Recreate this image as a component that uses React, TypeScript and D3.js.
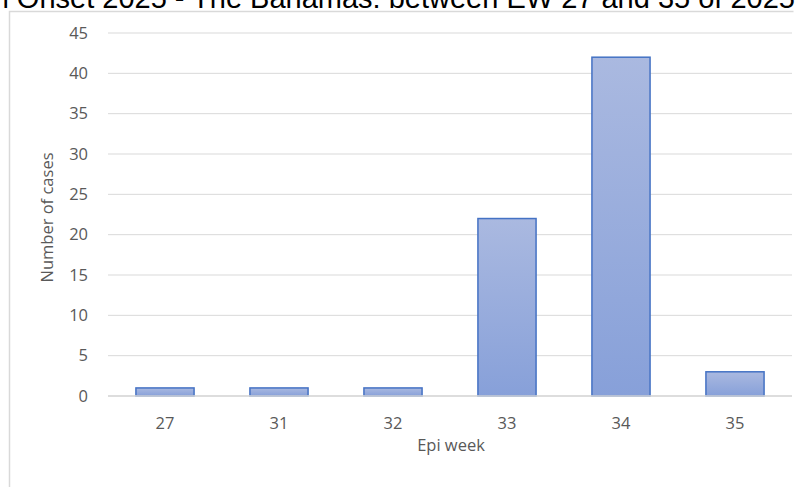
import React from "react";
import * as d3 from "d3";

const categories = ["27", "31", "32", "33", "34", "35"];
const cases = [1, 1, 1, 22, 42, 3];
const yTicks = [0, 5, 10, 15, 20, 25, 30, 35, 40, 45];
const title = "Cases by Week of Symptom Onset 2025 - The Bahamas: between EW 27 and 35 of 2025";

export default function App() {
  const W = 803, H = 487;
  const left = 108, right = 792, top = 33, bottom = 396;
  const x = d3.scaleBand<string>().domain(categories).range([left, right]).paddingInner(0.49).paddingOuter(0.245);
  const y = d3.scaleLinear().domain([0, 45]).range([bottom, top]);
  const font = "'Open Sans', sans-serif";
  const fs = 16.5;
  return (
    <svg width={W} height={H} style={{ position: "absolute", left: 0, top: 0, background: "#fff" }}>
      <defs>
        <linearGradient id="barg" x1="0" y1="0" x2="0" y2="1">
          <stop offset="0%" stopColor="#aab9e0" />
          <stop offset="100%" stopColor="#87a0d9" />
        </linearGradient>
      </defs>
      <rect x={0} y={0} width={W} height={H} fill="#fff" />
      <text x={W - 8} y={8} textAnchor="end" fontFamily="'Liberation Sans', Arial, sans-serif" fontSize={29} fill="#000">{title}</text>
      <path d={`M9.5,${H} V11.5 H793.5`} fill="none" stroke="#d9d9d9" strokeWidth={1.5} />
      {yTicks.map(t => (
        <g key={t}>
          <line x1={left} x2={right} y1={y(t)} y2={y(t)} stroke="#d9d9d9" strokeWidth={1} />
          <text x={88} y={y(t)} dy="0.35em" textAnchor="end" fontFamily={font} fontSize={fs} fill="#595959">{t}</text>
        </g>
      ))}
      {categories.map((c, i) => {
        const bx = x(c)!;
        const bw = x.bandwidth();
        return (
          <rect key={c} x={bx} y={y(cases[i])} width={bw} height={y(0) - y(cases[i])} fill="url(#barg)" stroke="#4472c4" strokeWidth={1.5} />
        );
      })}
      <line x1={left} x2={right} y1={y(0)} y2={y(0)} stroke="#d9d9d9" strokeWidth={1.5} />
      {categories.map(c => (
        <text key={c} x={x(c)! + x.bandwidth() / 2} y={423} dy="0.35em" textAnchor="middle" fontFamily={font} fontSize={fs} fill="#595959">{c}</text>
      ))}
      <text x={451} y={445} dy="0.35em" textAnchor="middle" fontFamily={font} fontSize={fs} fill="#595959">Epi week</text>
      <text transform={`translate(47,${(top + bottom) / 2 + 3}) rotate(-90)`} dy="0.35em" textAnchor="middle" fontFamily={font} fontSize={fs} fill="#595959">Number of cases</text>
    </svg>
  );
}
